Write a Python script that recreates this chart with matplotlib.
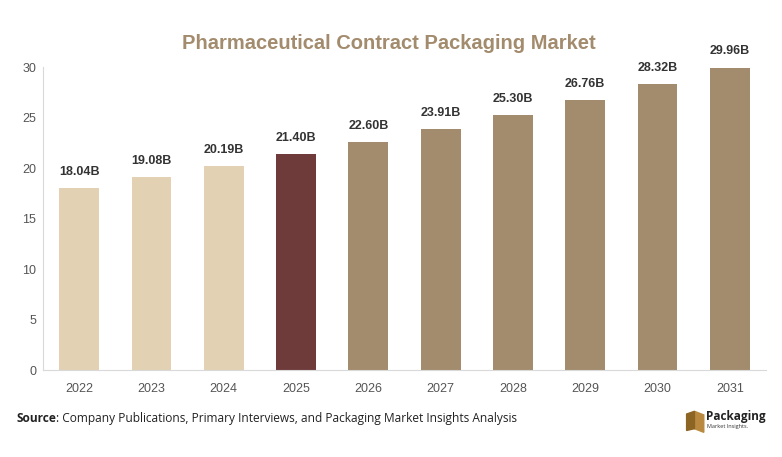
import matplotlib.pyplot as plt
from matplotlib.patches import Polygon

years = ['2022', '2023', '2024', '2025', '2026', '2027', '2028', '2029', '2030', '2031']
values = [18.04, 19.08, 20.19, 21.40, 22.60, 23.91, 25.30, 26.76, 28.32, 29.96]
labels = ['18.04B', '19.08B', '20.19B', '21.40B', '22.60B', '23.91B', '25.30B', '26.76B', '28.32B', '29.96B']

light = '#E2D1B3'
dark = '#6E3A3A'
tan = '#A38B6D'
colors = [light] * 3 + [dark] + [tan] * 6

plt.rcParams['font.family'] = ['Liberation Sans', 'DejaVu Sans']

fig = plt.figure(figsize=(7.82, 4.57), dpi=100)
ax = fig.add_axes([0.055, 0.19, 0.9246, 0.663])

x = list(range(len(years)))
ax.bar(x, values, width=0.55, color=colors, zorder=2)

for xi, v, lab in zip(x, values, labels):
    ax.text(xi, v + 1.0, lab, ha='center', va='bottom', fontsize=9, fontweight='bold',
            color='#333333', clip_on=False)

ax.set_xlim(-0.5, 9.5)
ax.set_ylim(0, 30)
ax.set_xticks(x)
ax.set_xticklabels(years)
ax.set_yticks([0, 5, 10, 15, 20, 25, 30])
ax.tick_params(axis='both', length=0, labelsize=9, labelcolor='#555555')
ax.tick_params(axis='x', pad=9)
ax.tick_params(axis='y', pad=5)

for s in ['top', 'right']:
    ax.spines[s].set_visible(False)
ax.spines['left'].set_color('#d9d9d9')
ax.spines['bottom'].set_color('#d9d9d9')

fig.text(0.497, 0.905, 'Pharmaceutical Contract Packaging Market', ha='center', va='center',
         fontsize=14.5, fontweight='bold', color=tan)

src = fig.text(0.021, 0.085, 'Source', ha='left', va='center', fontsize=8.6, fontweight='bold',
               family='Open Sans', color='#222222')
ax.annotate(': Company Publications, Primary Interviews, and Packaging Market Insights Analysis',
            xy=(1, 0.5), xycoords=src, ha='left', va='center', fontsize=8.6,
            family='Open Sans', color='#222222')

# logo
lx = 0.888
fig.patches.append(Polygon([[lx, 0.100], [lx + 0.012, 0.092], [lx + 0.012, 0.054], [lx, 0.062]],
                           closed=True, transform=fig.transFigure, color='#B8893F'))
fig.patches.append(Polygon([[lx, 0.100], [lx - 0.010, 0.094], [lx - 0.010, 0.058], [lx, 0.062]],
                           closed=True, transform=fig.transFigure, color='#8C6424'))
fig.text(lx + 0.015, 0.088, 'Packaging', ha='left', va='center', fontsize=8.5, fontweight='bold',
         family='Open Sans', color='#222222')
fig.text(lx + 0.016, 0.066, 'Market Insights.', ha='left', va='center', fontsize=4,
         family='Open Sans', color='#333333')

fig.savefig('out.png', dpi=100)
